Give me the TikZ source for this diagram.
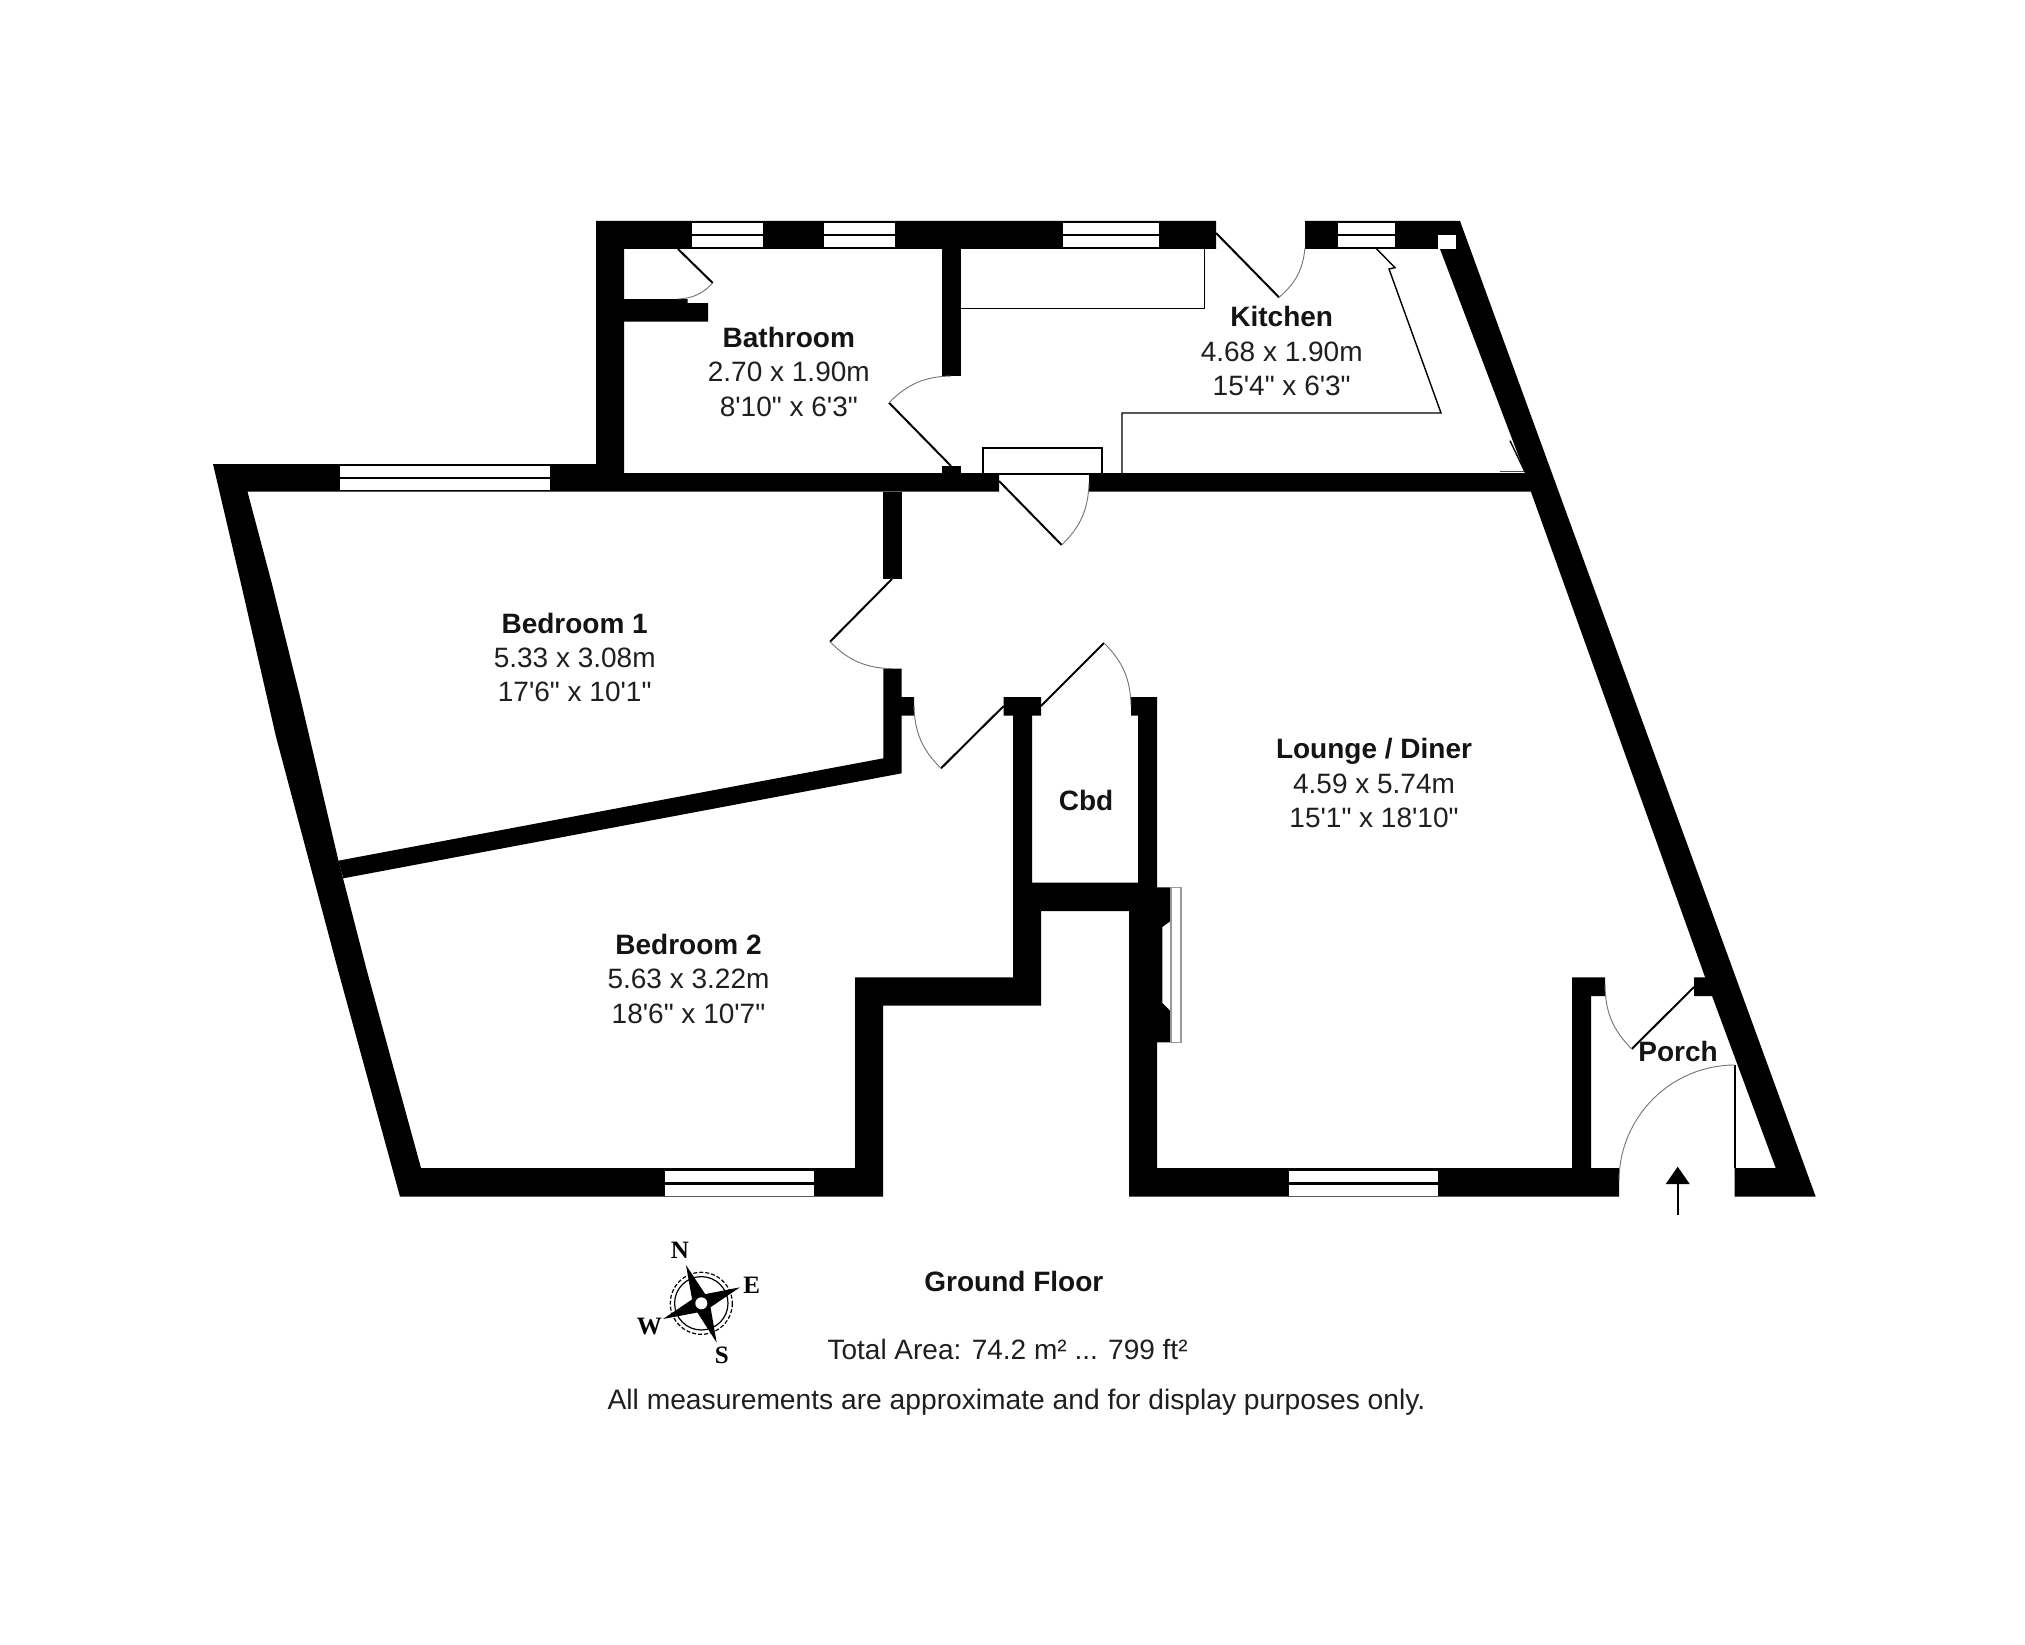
\documentclass[tikz,border=0pt]{standalone}
\usepackage{fontspec}
\newfontfamily\labfont{Liberation Sans}
\newfontfamily\compfont{Liberation Serif}
\tikzset{
  wall/.style={fill=black,draw=none},
  thinline/.style={draw=black,line width=1.4pt},
  doorleaf/.style={draw=black,line width=2pt},
  doorarc/.style={draw=black!55,line width=0.9pt},
  windowpane/.style={fill=white,draw=none},
  roomname/.style={anchor=base,font=\labfont\fontsize{28}{28}\selectfont\bfseries,inner sep=0pt,text=black!92},
  roomdim/.style={anchor=base,font=\labfont\fontsize{28}{28}\selectfont,inner sep=0pt,text=black!88},
  compassletter/.style={font=\compfont\fontsize{25}{25}\selectfont\bfseries,inner sep=0pt},
}
\newcommand{\topwin}[4]{% x1 x2 y-top (unused)
  \fill[windowpane] (#1,#3) rectangle (#2,#3+11);
  \fill[windowpane] (#1,#3+13.5) rectangle (#2,#3+24.5);
}
\begin{document}
\begin{tikzpicture}[x=1pt,y=-1pt]
\useasboundingbox (0,0) rectangle (2025,1645);
\fill[white] (0,0) rectangle (2025,1645);

% --- walls
% bedroom left and top wall
\fill[wall] (213,464) -- (596,464) -- (596,221) -- (1216,221) -- (1216,249) -- (624,249)
  -- (624,473) -- (999,473) -- (999,491.7) -- (247.5,491.7) -- (271.7,583) -- (300,696.7) -- (338.3,860)
  -- (366.7,970) -- (421,1168) -- (883,1168)
  -- (883,1196.7) -- (400,1196.7) -- (338,970) -- (276,736.7) -- (241.7,586.7) -- cycle;
% bathroom cupboard wall
\fill[wall] (624,299) -- (687.7,299) -- (687.7,303) -- (708,303) -- (708,321.7) -- (624,321.7) -- cycle;
% bathroom / kitchen wall and stub
\fill[wall] (942,249) rectangle (961,376);
\fill[wall] (942,466) rectangle (961,473);
% kitchen top right and right wall
\fill[wall] (1305,221) -- (1460,221) -- (1815.7,1196.7) -- (1734.7,1196.7) -- (1734.7,1168)
  -- (1775.7,1168) -- (1705,977) -- (1531,492) -- (1525,473) -- (1440,249) -- (1305,249) -- cycle;
\fill[white] (1437.7,235) rectangle (1456,249);
% wall between kitchen and lounge
\fill[wall] (1089,473) -- (1526,473) -- (1532,491.7) -- (1089,491.7) -- cycle;
% bedroom 1 / hall wall
\fill[wall] (883.3,491.7) rectangle (901.7,578.7);
\fill[wall] (883.3,668.7) -- (901.7,668.7) -- (901.7,697) -- (914,697) -- (914,715.7) -- (901.7,715.7)
  -- (901.7,773.3) -- (343.3,878.3) -- (338.3,860.7) -- (883.3,758.3) -- cycle;
% bedroom 2 stepped wall, cupboard, chimney breast
\fill[wall] (1003.7,697) -- (1041,697) -- (1041,715.7) -- (1032,715.7) -- (1032,882.7) -- (1138,882.7)
  -- (1138,715.7) -- (1131,715.7) -- (1131,697) -- (1157,697) -- (1157,887.3) -- (1171,887.3)
  -- (1171,920.7) -- (1162.3,927) -- (1162.3,1003) -- (1171,1011.7) -- (1171,1042.3) -- (1157,1042.3)
  -- (1157,1168) -- (1572,1168) -- (1572,977.3) -- (1605,977.3) -- (1605,996) -- (1591,996)
  -- (1591,1168) -- (1619,1168) -- (1619,1196.7) -- (1129,1196.7) -- (1129,911) -- (1041,911)
  -- (1041,1005.7) -- (883,1005.7) -- (883,1168) -- (855,1168) -- (855,977.3) -- (1013,977.3)
  -- (1013,715.7) -- (1003.7,715.7) -- cycle;
% porch stub
\fill[wall] (1694,977.3) -- (1706,977.3) -- (1713,996) -- (1694,996) -- cycle;

% --- windows
\topwin{692.3}{763}{222.7}{}
\topwin{824.3}{895}{222.7}{}
\topwin{1063}{1159}{222.7}{}
\topwin{1337.7}{1395}{222.7}{}
\topwin{340}{550}{465.8}{}
\topwin{665}{814}{1171}{}
\topwin{1289}{1437.7}{1171}{}

% --- fireplace
\draw[draw=black!40,line width=1.6pt,fill=white] (1171,887.3) rectangle (1181,1042.3);

% --- doors
\coordinate (bathcupA) at (678,249);
\coordinate (bathcupB) at (712.7,283);
\coordinate (bathcupC) at (678,299);
\draw[doorleaf] (bathcupA) -- (bathcupB);
\draw[doorarc] (bathcupB) to[bend left=22] (bathcupC);

\coordinate (bathA) at (951,466);
\coordinate (bathB) at (889,402.7);
\coordinate (bathC) at (951,376);
\draw[doorleaf] (bathA) -- (bathB);
\draw[doorarc] (bathB) to[bend left=22] (bathC);

\coordinate (kitA) at (1216,233);
\coordinate (kitB) at (1279,297.3);
\coordinate (kitC) at (1305,248);
\draw[doorleaf] (kitA) -- (kitB);
\draw[doorarc] (kitB) to[bend right=22] (kitC);

\coordinate (hallA) at (999,481);
\coordinate (hallB) at (1061.7,545);
\coordinate (hallC) at (1089,483);
\draw[doorleaf] (hallA) -- (hallB);
\draw[doorarc] (hallB) to[bend right=22] (hallC);

\coordinate (bedoneA) at (892,579);
\coordinate (bedoneB) at (830,641.7);
\coordinate (bedoneC) at (892,668.7);
\draw[doorleaf] (bedoneA) -- (bedoneB);
\draw[doorarc] (bedoneB) to[bend right=22] (bedoneC);

\coordinate (bedtwoA) at (1003.7,706);
\coordinate (bedtwoB) at (941,768.3);
\coordinate (bedtwoC) at (914,706);
\draw[doorleaf] (bedtwoA) -- (bedtwoB);
\draw[doorarc] (bedtwoB) to[bend left=22] (bedtwoC);

\coordinate (cbdA) at (1041,706);
\coordinate (cbdB) at (1104,643);
\coordinate (cbdC) at (1131,706);
\draw[doorleaf] (cbdA) -- (cbdB);
\draw[doorarc] (cbdB) to[bend left=22] (cbdC);

\coordinate (porchA) at (1694,987);
\coordinate (porchB) at (1631.7,1049);
\coordinate (porchC) at (1605,985);
\draw[doorleaf] (porchA) -- (porchB);
\draw[doorarc] (porchB) to[bend left=22] (porchC);

% front door
\coordinate (frontA) at (1735,1168);
\coordinate (frontB) at (1735,1065);
\coordinate (frontC) at (1619,1181);
\draw[thinline,line width=1.8pt] (frontA) -- (frontB);
\draw[doorarc] (frontB) .. controls (1671,1065) and (1619,1117) .. (frontC);

% --- kitchen fittings
\draw[thinline] (961,308.7) -- (1204.7,308.7) -- (1204.7,249);
\draw[thinline,line width=2pt] (983,473) -- (983,448) -- (1101.7,448) -- (1101.7,473);
\draw[thinline,line width=2pt] (983,473.6) -- (1089,473.6);
\draw[thinline] (1122,473) -- (1122,413) -- (1441,413) -- (1389,269) -- (1395,267.7) -- (1376.7,249);
\draw[thinline,draw=black!70] (1500,471.5) -- (1525,471.5);
\draw[thinline] (1510,440.7) -- (1525,472);

% --- entrance arrow
\fill[black] (1677.7,1166.7) -- (1689.7,1184) -- (1665.7,1184) -- cycle;
\draw[black,line width=1.8pt] (1677.7,1184) -- (1677.7,1215);

% --- room labels
\node[roomname] (bathn) at (788.8,347.7) {Bathroom};
\node[roomdim] (bathd) at (788.8,381.7) {2.70 x 1.90m};
\node[roomdim] (bathe) at (788.8,416) {8'10" x 6'3"};
\node[roomname] (kitn) at (1281.7,326.7) {Kitchen};
\node[roomdim] (kitd) at (1281.7,361) {4.68 x 1.90m};
\node[roomdim] (kite) at (1281.7,395) {15'4" x 6'3"};
\node[roomname] (bedan) at (574.7,633) {Bedroom 1};
\node[roomdim] (bedad) at (574.7,667) {5.33 x 3.08m};
\node[roomdim] (bedae) at (574.7,701) {17'6" x 10'1"};
\node[roomname] (bedbn) at (688.5,954) {Bedroom 2};
\node[roomdim] (bedbd) at (688.5,988) {5.63 x 3.22m};
\node[roomdim] (bedbe) at (688.5,1023) {18'6" x 10'7"};
\node[roomname] (loun) at (1374,758) {Lounge / Diner};
\node[roomdim] (loud) at (1374,793) {4.59 x 5.74m};
\node[roomdim] (loue) at (1374,827) {15'1" x 18'10"};
\node[roomname] (cbdn) at (1086,810) {Cbd};
\node[roomname] (porn) at (1678,1061.7) {Porch};
\node[roomname] (grnd) at (1013.8,1291.5) {Ground Floor};
\node[roomdim] (area) at (1007.6,1359) {Total Area: 74.2 m² ... 799 ft²};
\node[roomdim,font=\labfont\fontsize{28.2}{28.2}\selectfont] (disc) at (1016.5,1409) {All measurements are approximate and for display purposes only.};

% --- compass
\coordinate (cc) at (701.3,1303.3);
\draw[black,line width=1.2pt] (cc) circle[radius=26.7];
\draw[black,line width=1.2pt,dash pattern=on 4pt off 2pt] (cc) circle[radius=31];
\fill[black] (686,1265) -- (705.2,1294.1) -- (740,1287.3) -- (710.5,1307.2) -- (716.7,1342.7)
  -- (697.4,1312.5) -- (663,1319) -- (692.1,1299.4) -- cycle;
\fill[white] (cc) circle[radius=6];
\node[compassletter] (cn) at (680,1250) {N};
\node[compassletter] (ce) at (751.7,1285) {E};
\node[compassletter] (cs) at (721.7,1355) {S};
\node[compassletter] (cw) at (649.3,1326) {W};
\end{tikzpicture}
\end{document}
